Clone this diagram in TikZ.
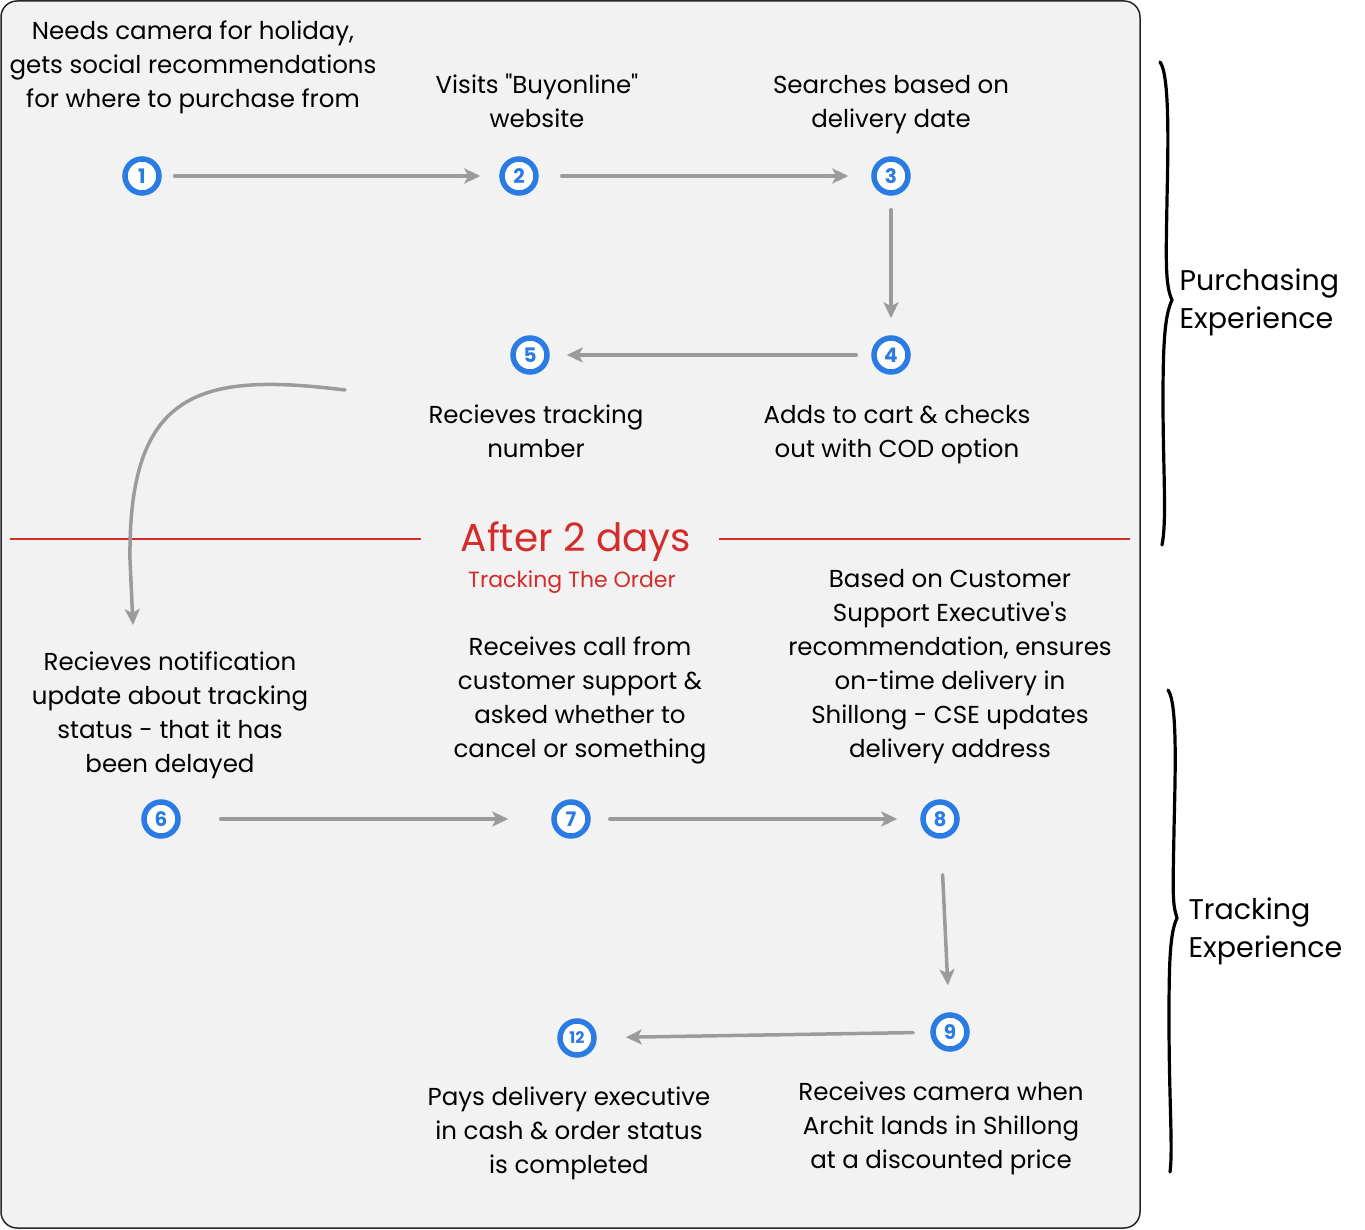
\documentclass[tikz,border=0pt]{standalone}
\usepackage{fontspec}
\setmainfont{Poppins}[Ligatures=TeXOff]
\usetikzlibrary{arrows.meta}
\definecolor{panel}{HTML}{F2F2F2}
\definecolor{stepblue}{HTML}{2B7BE4}
\definecolor{flowgray}{HTML}{9B9B9B}
\definecolor{alert}{HTML}{D42B2B}
\tikzset{
  num/.style={circle, draw=stepblue, line width=5.5pt, fill=white, minimum size=34pt, inner sep=0pt, text=stepblue, font=\fontsize{20}{20}\selectfont\bfseries},
  desc/.style={align=center, font=\fontsize{24.5}{34}\selectfont},
  flow/.style={draw=flowgray, line width=3.5pt, line cap=round, -{Stealth[length=16pt,width=15pt,inset=4pt]}, shorten <=15pt, shorten >=19pt},
  brace/.style={line width=3.2pt, line cap=round},
  side/.style={align=left, anchor=west, font=\fontsize{28.5}{38}\selectfont},
  divider/.style={draw=alert, line width=1.6pt}
}

\begin{document}
\begin{tikzpicture}[x=1pt, y=-1pt]
\useasboundingbox (0,0) rectangle (1365,1230);
\draw[draw=black!85, line width=1.5pt, fill=panel, rounded corners=16pt] (1,1) rectangle (1140,1228);

% purchasing steps
\node[num] (c1) at (142,176) {1};
\node[num] (c2) at (519,176) {2};
\node[num] (c3) at (891,176) {3};
\node[num] (c4) at (891,355) {4};
\node[num] (c5) at (530,355) {5};
\node[desc] (t1) at (193,67) {Needs camera for holiday,\\gets social recommendations\\for where to purchase from};
\node[desc] (t2) at (537,101) {Visits "Buyonline"\\website};
\node[desc] (t3) at (891,105) {Searches based on\\delivery date};
\node[desc] (t4) at (897,435) {Adds to cart \& checks\\out with COD option};
\node[desc] (t5) at (536,431) {Recieves tracking\\number};
\draw[flow, shorten <=13pt] (c1) -- (c2);
\draw[flow, shorten <=23pt, shorten >=23pt] (c2) -- (c3);
\draw[flow, shorten <=14pt, shorten >=17pt] (c3) -- (c4);
\draw[flow, shorten >=17pt] (c4) -- (c5);

% after 2 days
\node[text=alert, font=\fontsize{39}{39}\selectfont] (after) at (576,542) {After 2 days};
\node[text=alert, font=\fontsize{22}{22}\selectfont] (track) at (572,582) {Tracking The Order};
\draw[divider] (10,539) -- (421,539);
\draw[divider] (719,539) -- (1130,539);
\coordinate (bendstart) at (345,390);
\coordinate (bendend) at (133,625);
\draw[flow, shorten <=0pt, shorten >=0pt] (bendstart) .. controls (200,372) and (128,390) .. (130,560) -- (bendend);

% tracking steps
\node[num] (c6) at (161,819) {6};
\node[num] (c7) at (571,819) {7};
\node[num] (c8) at (940,819) {8};
\node[num] (c9) at (950,1032) {9};
\node[num, font=\fontsize{16}{16}\selectfont\bfseries] (c12) at (577,1038) {12};
\node[desc] (t6) at (170,715) {Recieves notification\\update about tracking\\status - that it has\\been delayed};
\node[desc] (t7) at (580,700) {Receives call from\\customer support \&\\asked whether to\\cancel or something};
\node[desc] (t8) at (950,667) {Based on Customer\\Support Executive's\\recommendation, ensures\\on-time delivery in\\Shillong - CSE updates\\delivery address};
\node[desc] (t9) at (941,1128) {Receives camera when\\Archit lands in Shillong\\at a discounted price};
\node[desc] (t12) at (569,1133) {Pays delivery executive\\in cash \& order status\\is completed};
\draw[flow, shorten <=40pt, shorten >=43pt] (c6) -- (c7);
\draw[flow, shorten <=19pt, shorten >=23pt] (c7) -- (c8);
\draw[flow, shorten <=36pt, shorten >=27pt] (c8) -- (c9);
\draw[flow, shorten <=17pt, shorten >=29pt] (c9) -- (c12);

% braces
\draw[brace] (1160,62) .. controls (1170,75) and (1168,150) .. (1167,200)
  .. controls (1166,260) and (1165,285) .. (1172,300)
  .. controls (1165,315) and (1163,340) .. (1163,400)
  .. controls (1163,470) and (1167,520) .. (1162,545);
\node[side] (purch) at (1176,302) {Purchasing\\Experience};
\draw[brace] (1168,690) .. controls (1178,703) and (1175,780) .. (1174,830)
  .. controls (1173,890) and (1172,903) .. (1177,918)
  .. controls (1170,933) and (1169,960) .. (1169,1020)
  .. controls (1169,1100) and (1173,1150) .. (1170,1172);
\node[side] (trackexp) at (1185,931) {Tracking\\Experience};
\end{tikzpicture}
\end{document}
